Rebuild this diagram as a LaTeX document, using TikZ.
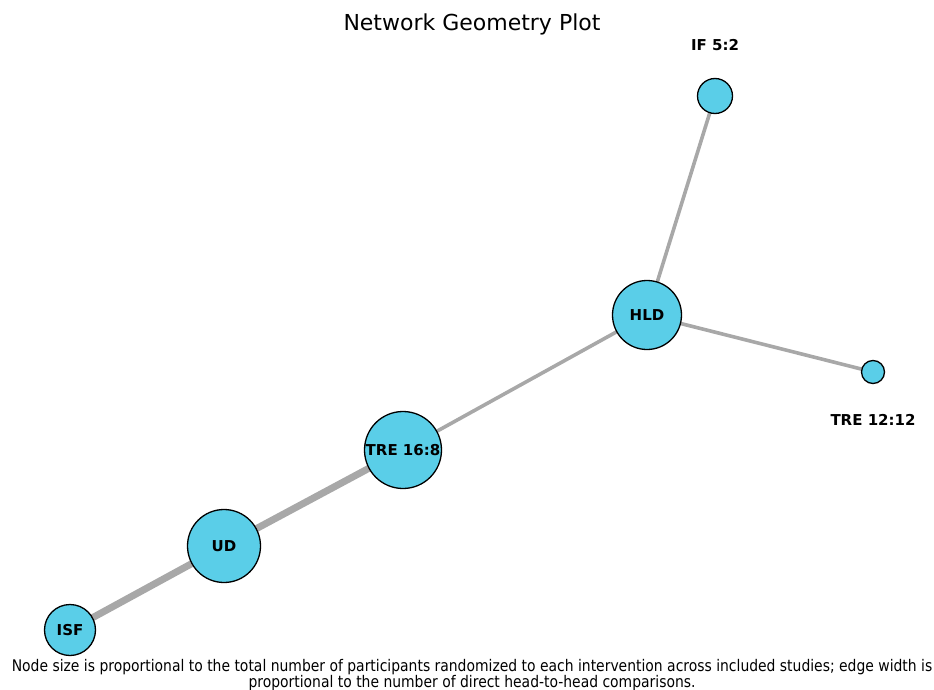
\documentclass[tikz,border=0pt]{standalone}
\usepackage{fontspec}
\setmainfont{DejaVu Sans}
\newfontfamily\capfont[FakeStretch=0.87]{DejaVu Sans}
\usepackage{tikz}
\usetikzlibrary{positioning, backgrounds}
\definecolor{netblue}{RGB}{90, 206, 232}
\definecolor{edgegray}{RGB}{168, 168, 168}

\tikzset{
    treat/.style={circle, draw=black, line width=1.3pt, fill=netblue, inner sep=0pt,
        font=\fontsize{15}{18}\selectfont\bfseries},
    lbl/.style={font=\fontsize{15}{18}\selectfont\bfseries},
    thinedge/.style={edgegray, line width=3.6pt},
    thickedge/.style={edgegray, line width=7pt}
}

\begin{document}
\begin{tikzpicture}[x=1pt, y=-1pt]
    \useasboundingbox (0,0) rectangle (934,690);

    % Title
    \node (title) at (472,24) {\fontsize{22}{26}\selectfont Network Geometry Plot};

    % Nodes
    \node[treat, minimum size=51pt] (isf) at (70,630) {ISF};
    \node[treat, minimum size=73pt] (ud) at (224,546) {UD};
    \node[treat, minimum size=77pt] (tre16) at (403,450) {\makebox[0pt]{TRE 16:8}};
    \node[treat, minimum size=69pt] (hld) at (647,315) {HLD};
    \node[treat, minimum size=35pt] (if) at (715,96) {};
    \node[treat, minimum size=23pt] (tre12) at (873,372) {};

    % Outside labels
    \node[lbl] (iflbl) at (715,45) {IF 5:2};
    \node[lbl] (tre12lbl) at (873,420) {TRE 12:12};

    % Edges
    \begin{pgfonlayer}{background}
        \draw[thickedge] (isf.center) -- (ud.center);
        \draw[thickedge] (ud.center) -- (tre16.center);
        \draw[thinedge] (tre16.center) -- (hld.center);
        \draw[thinedge] (hld.center) -- (if.center);
        \draw[thinedge] (hld.center) -- (tre12.center);
    \end{pgfonlayer}

    % Caption
    \node[align=center, font=\capfont\fontsize{16}{16}\selectfont] (caption) at (472,675)
        {Node size is proportional to the total number of participants randomized to each intervention across included studies; edge width is\\
         proportional to the number of direct head-to-head comparisons.};
\end{tikzpicture}
\end{document}
